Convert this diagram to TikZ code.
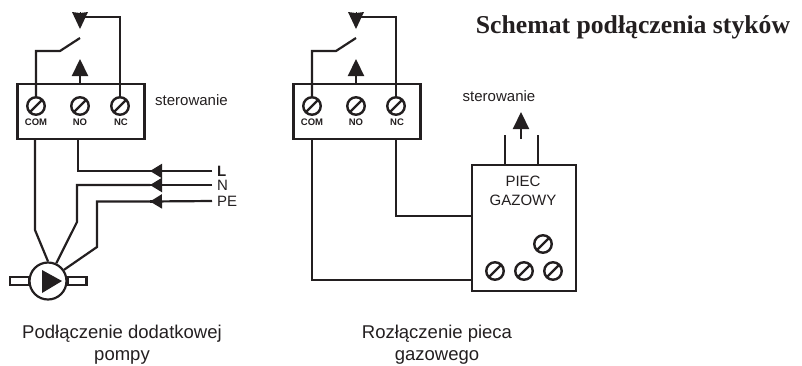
\documentclass[tikz,border=0pt]{standalone}
\usepackage{fontspec}
\setmainfont{Liberation Sans}
\newfontfamily\titlefont{Liberation Serif}
\usetikzlibrary{arrows.meta}
\definecolor{ink}{HTML}{231F20}
\tikzset{
  wire/.style={draw=ink, line width=2.2pt, line join=miter},
  box/.style={draw=ink, line width=2.2pt, fill=white, inner sep=0pt},
  screw/.style={circle, draw=ink, line width=2.4pt, fill=white, minimum size=17.5pt, inner sep=0pt,
    path picture={\draw[ink, line width=2.4pt] (path picture bounding box.south west) -- (path picture bounding box.north east);}},
  pin/.style={font=\bfseries\fontsize{9.5}{11}\selectfont, text=ink, inner sep=0pt},
  label/.style={font=\fontsize{15}{19}\selectfont, text=ink, inner sep=0pt},
  caption/.style={font=\fontsize{18.5}{22}\selectfont, text=ink, inner sep=0pt, align=center},
  head/.style={-{Triangle[length=17pt, width=16pt]}},
  headsmall/.style={-{Triangle[length=12pt, width=14pt]}},
  contact/.style={-{Stealth[length=17pt, width=16pt, inset=1pt]}},
}
\begin{document}
\begin{tikzpicture}[x=1pt, y=-1pt]
  \useasboundingbox (0,0) rectangle (802,365);
  %%% relay boxes with their switch
  \foreach \s/\n in {0/A, 276/B}{
    \node[box, minimum width=127pt, minimum height=55pt] (box\n) at (81+\s,111.5) {};
    \node[screw] (com\n) at (36+\s,106) {};
    \node[screw] (no\n) at (80+\s,106) {};
    \node[screw] (nc\n) at (120+\s,106) {};
    \node[pin] (comlab\n) at (36+\s,122.5) {COM};
    \node[pin] (nolab\n) at (80+\s,122.5) {NO};
    \node[pin] (nclab\n) at (121+\s,122.5) {NC};
    \coordinate (sw\n) at (60+\s,51);
    \coordinate (swend\n) at (80+\s,38);
    \coordinate (top\n) at (80+\s,17);
    \coordinate (cap\n) at (80+\s,12);
    \coordinate (tip\n) at (80+\s,29);
    \coordinate (notip\n) at (80+\s,59);
    %%% switch arm and contact
    \draw[wire] (com\n) |- (sw\n) -- (swend\n);
    \draw[wire] (nc\n) |- (top\n);
    \draw[draw=ink, fill=ink, line width=0pt, contact] (cap\n) -- (tip\n);
    \draw[wire, fill=ink, head] (no\n |- box\n.north) -- (notip\n);
  }
  \node[label, anchor=west] (ctrlA) at (155,100) {sterowanie};
  %%% left picture, pump
  \node[circle, draw=ink, line width=2.2pt, minimum size=37pt, inner sep=0pt] (pump) at (48,281) {};
  \node[box, minimum width=19pt, minimum height=8pt] (pipeL) at (19.5,281) {};
  \node[box, minimum width=19pt, minimum height=8pt] (pipeR) at (77,281) {};
  \fill[ink] (42,270) -- (62,281) -- (42,293) -- cycle;
  %%% mains lines
  \node[label, anchor=west, font=\bfseries\fontsize{15}{17}\selectfont] (lineL) at (217,171) {L};
  \node[label, anchor=west] (lineN) at (217,185) {N};
  \node[label, anchor=west] (linePE) at (217,201) {PE};
  \foreach \n/\yy in {L/171, N/185, PE/201.5}{
    \coordinate (tip\n) at (150,\yy);
    \draw[wire, fill=ink, headsmall] (line\n.west) ++(-5,0) -- (tip\n);
    \draw[wire] (tip\n) -- ++(10,0);
  }
  \coordinate (bendcom) at (35,230);
  \coordinate (bendN) at (77,222);
  \coordinate (bendPE) at (97,247);
  \draw[wire] (boxA.south -| bendcom) -- (bendcom) -- (pump.90);
  \draw[wire] (tipL) -| (78,139);
  \draw[wire] (tipN) -| (bendN) -- (pump.65);
  \draw[wire] (tipPE) -| (bendPE) -- (pump.35);
  \node[caption] (capA) at (122,344.5) {Podłączenie dodatkowej\\pompy};
  %%% right picture, boiler
  \node[box, minimum width=104pt, minimum height=126pt] (piec) at (524,228) {};
  \node[label, align=center] (pieclab) at (523,191) {PIEC\\GAZOWY};
  \foreach \n/\x/\y in {a/543/244, b/495/271, c/524/271, d/553/271}{
    \node[screw] (term\n) at (\x,\y) {};
  }
  \coordinate (stubL) at (505,135);
  \coordinate (stubR) at (538,135);
  \coordinate (ctrltail) at (521,139);
  \coordinate (ctrltip) at (521,112);
  \draw[wire] (stubL) -- (stubL |- piec.north);
  \draw[wire] (stubR) -- (stubR |- piec.north);
  \draw[wire, fill=ink, head] (ctrltail) -- (ctrltip);
  \node[label] (ctrlB) at (499,96) {sterowanie};
  \draw[wire] (comB |- boxB.south) |- (piec.west |- 0,280);
  \draw[wire] (ncB |- boxB.south) |- (piec.west |- 0,216);
  \node[caption] (capB) at (437,345) {Rozłączenie pieca\\gazowego};
  %%% title
  \node[font=\titlefont\bfseries\fontsize{25.7}{30}\selectfont, text=ink, inner sep=0pt] (title) at (633,27) {Schemat podłączenia styków};
\end{tikzpicture}
\end{document}
